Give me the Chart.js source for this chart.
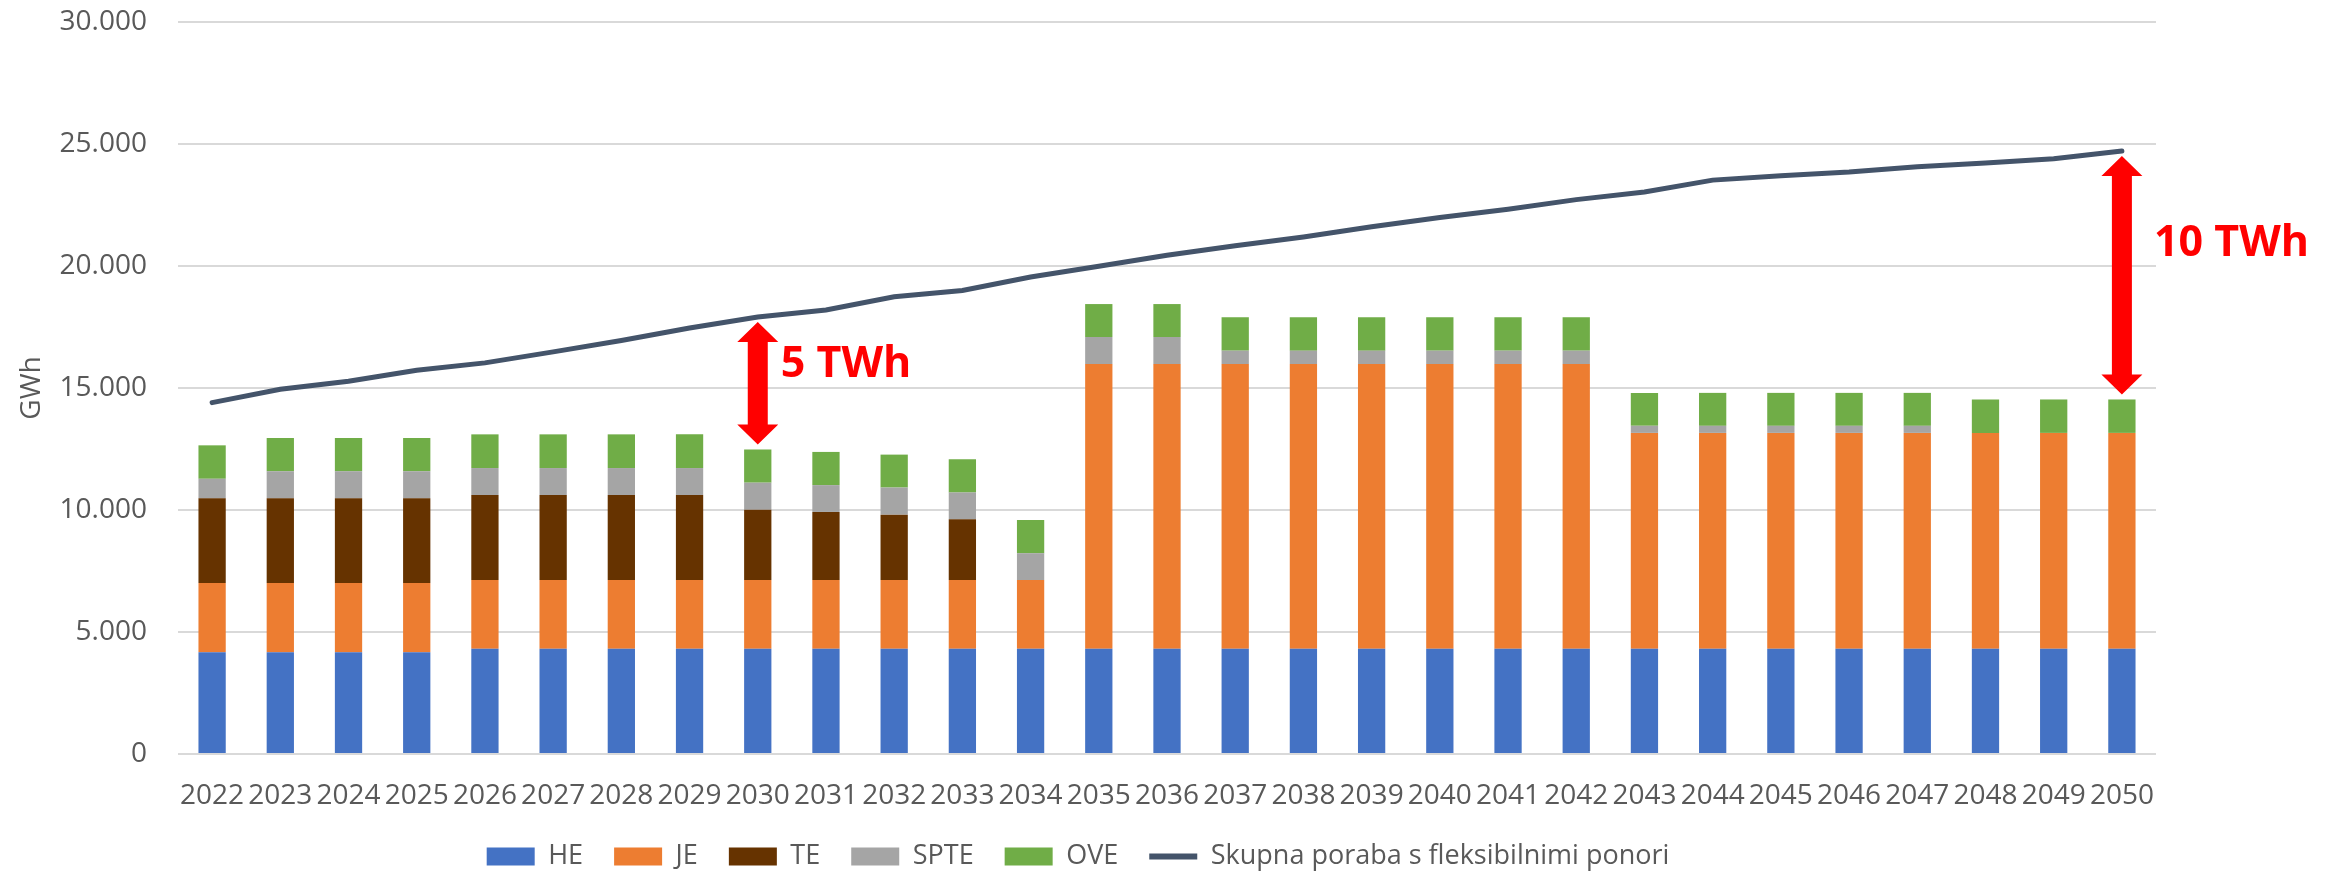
<!DOCTYPE html>
<html>
<head>
<meta charset="utf-8">
<title>Proizvodnja in poraba</title>
<script src="https://cdn.jsdelivr.net/npm/chart.js@4.4.1/dist/chart.umd.min.js"></script>
<style>
  html, body { margin: 0; padding: 0; background: #ffffff; }
</style>
</head>
<body>
<canvas id="myChart" width="2326" height="875"></canvas>
<script>
// categories
const leta = ["2022", "2023", "2024", "2025", "2026", "2027", "2028", "2029", "2030", "2031",
  "2032", "2033", "2034", "2035", "2036", "2037", "2038", "2039", "2040", "2041",
  "2042", "2043", "2044", "2045", "2046", "2047", "2048", "2049", "2050"];

// GWh per source
const he = [4170, 4170, 4170, 4170, 4310, 4310, 4310, 4310, 4310, 4310,
  4310, 4310, 4310, 4310, 4310, 4310, 4310, 4310, 4310, 4310,
  4310, 4310, 4310, 4310, 4310, 4310, 4310, 4310, 4310];
const je = [2840, 2840, 2840, 2840, 2820, 2820, 2820, 2820, 2820, 2820,
  2820, 2820, 2820, 11670, 11670, 11670, 11670, 11670, 11670, 11670,
  11670, 8850, 8850, 8850, 8850, 8850, 8850, 8850, 8850];
const te = [3470, 3470, 3470, 3470, 3480, 3480, 3480, 3480, 2880, 2790,
  2680, 2490, 0, 0, 0, 0, 0, 0, 0, 0,
  0, 0, 0, 0, 0, 0, 0, 0, 0];
const spte = [800, 1110, 1110, 1110, 1110, 1110, 1110, 1110, 1110, 1100,
  1110, 1100, 1100, 1110, 1110, 550, 550, 550, 550, 550,
  550, 290, 290, 290, 290, 290, 0, 0, 0];
const ove = [1370, 1360, 1360, 1360, 1380, 1380, 1380, 1380, 1360, 1360,
  1350, 1360, 1360, 1350, 1350, 1370, 1370, 1370, 1370, 1370,
  1370, 1350, 1350, 1350, 1350, 1350, 1370, 1370, 1370];

// total consumption with flexible sinks
const poraba = [14400, 14950, 15280, 15730, 16030, 16480, 16950, 17460, 17910, 18200,
  18740, 19000, 19550, 19990, 20440, 20830, 21190, 21610, 21990, 22330,
  22720, 23030, 23520, 23700, 23850, 24070, 24220, 24400, 24710];

// y axis ticks
const yTicks = [0, 5000, 10000, 15000, 20000, 25000, 30000];
const yTickLabels = ["0", "5.000", "10.000", "15.000", "20.000", "25.000", "30.000"];

// red arrows between line and bars
const oznake = [
  { leto: "2030", besedilo: "5 TWh", dx: 23, dy: 55 },
  { leto: "2050", besedilo: "10 TWh", dx: 32, dy: 100 },
];

Chart.defaults.font.family = "'Open Sans', sans-serif";
Chart.defaults.color = "#595959";

function narisiPuscico(ctx, cx, top, bottom) {
  const sh = 10;   // half shaft
  const hh = 20.5; // half head
  const hl = 20;   // head length
  ctx.beginPath();
  ctx.moveTo(cx, top);
  ctx.lineTo(cx + hh, top + hl);
  ctx.lineTo(cx + sh, top + hl);
  ctx.lineTo(cx + sh, bottom - hl);
  ctx.lineTo(cx + hh, bottom - hl);
  ctx.lineTo(cx, bottom);
  ctx.lineTo(cx - hh, bottom - hl);
  ctx.lineTo(cx - sh, bottom - hl);
  ctx.lineTo(cx - sh, top + hl);
  ctx.lineTo(cx - hh, top + hl);
  ctx.closePath();
  ctx.fill();
}

const puscice = {
  id: "puscice",
  beforeLayout(chart) {
    // legend sits lower than Chart.js would put it
    const legend = chart.legend;
    if (legend && !legend._popravljen) {
      const fit = legend.fit;
      legend.fit = function () {
        fit.call(this);
        this.height = 63;
      };
      legend._popravljen = true;
    }
  },
  afterDatasetsDraw(chart) {
    const ctx = chart.ctx;
    const x = chart.scales.x;
    const y = chart.scales.y;
    ctx.save();
    ctx.fillStyle = "#FF0000";
    oznake.forEach((o) => {
      const i = leta.indexOf(o.leto);
      const vsota = he[i] + je[i] + te[i] + spte[i] + ove[i];
      const cx = x.getPixelForValue(i);
      const top = y.getPixelForValue(poraba[i]) + 5;
      const bottom = y.getPixelForValue(vsota) - 5;
      narisiPuscico(ctx, cx, top, bottom);
      ctx.font = "bold 43px 'Open Sans'";
      ctx.textAlign = "left";
      ctx.textBaseline = "alphabetic";
      ctx.fillText(o.besedilo, cx + o.dx, top + o.dy);
    });
    ctx.restore();
  },
};

function stolpec(label, data, color) {
  return {
    type: "bar",
    label: label,
    data: data,
    backgroundColor: color,
    borderWidth: 0,
    stack: "vir",
    order: 1,
    barPercentage: 0.4,
    categoryPercentage: 1,
  };
}

const ctx = document.getElementById("myChart").getContext("2d");
const myChart = new Chart(ctx, {
  data: {
    labels: leta,
    datasets: [
      stolpec("HE", he, "#4472C4"),
      stolpec("JE", je, "#ED7D31"),
      stolpec("TE", te, "#663300"),
      stolpec("SPTE", spte, "#A5A5A5"),
      stolpec("OVE", ove, "#70AD47"),
      {
        type: "line",
        label: "Skupna poraba s fleksibilnimi ponori",
        data: poraba,
        borderColor: "#44546A",
        backgroundColor: "#44546A",
        borderWidth: 5,
        borderCapStyle: "round",
        pointRadius: 0,
        tension: 0,
        stack: "poraba",
        order: 0,
      },
    ],
  },
  options: {
    responsive: false,
    animation: false,
    layout: {
      padding: { left: 0, right: 170, top: 22, bottom: 0 },
    },
    plugins: {
      tooltip: { enabled: false },
      legend: {
        position: "bottom",
        labels: {
          usePointStyle: true,
          pointStyleWidth: 48,
          boxHeight: 18,
          padding: 31,
          color: "#595959",
          font: { size: 27 },
          sort: (a, b) => a.datasetIndex - b.datasetIndex,
          generateLabels(chart) {
            const items = Chart.defaults.plugins.legend.labels.generateLabels(chart);
            items.forEach((it) => {
              const ds = chart.data.datasets[it.datasetIndex];
              if (ds.type === "line") {
                it.pointStyle = "line";
                it.lineWidth = 6;
                it.strokeStyle = "#44546A";
              } else {
                it.pointStyle = "rect";
                it.lineWidth = 0;
              }
            });
            return items;
          },
        },
      },
    },
    scales: {
      x: {
        stacked: true,
        grid: { display: false, drawTicks: false },
        border: { display: false },
        ticks: {
          autoSkip: false,
          maxRotation: 0,
          minRotation: 0,
          padding: 25,
          color: "#595959",
          font: { size: 28 },
        },
        afterFit(scale) {
          scale.height = 58;
        },
      },
      y: {
        stacked: true,
        min: 0,
        max: 30000,
        grid: { color: "#D9D9D9", lineWidth: 2, drawTicks: false },
        border: { display: false },
        afterBuildTicks(scale) {
          scale.ticks = yTicks.map((v) => ({ value: v }));
        },
        ticks: {
          padding: 31,
          color: "#595959",
          font: { size: 28 },
          callback: (v) => yTickLabels[yTicks.indexOf(v)],
        },
        title: {
          display: true,
          text: "GWh",
          color: "#595959",
          font: { size: 28 },
          padding: { top: 15, bottom: 0 },
        },
        afterFit(scale) {
          scale.width = 178;
          scale.paddingTop = 0;
          scale.paddingBottom = 0;
        },
      },
    },
  },
  plugins: [puscice],
});
</script>
</body>
</html>
